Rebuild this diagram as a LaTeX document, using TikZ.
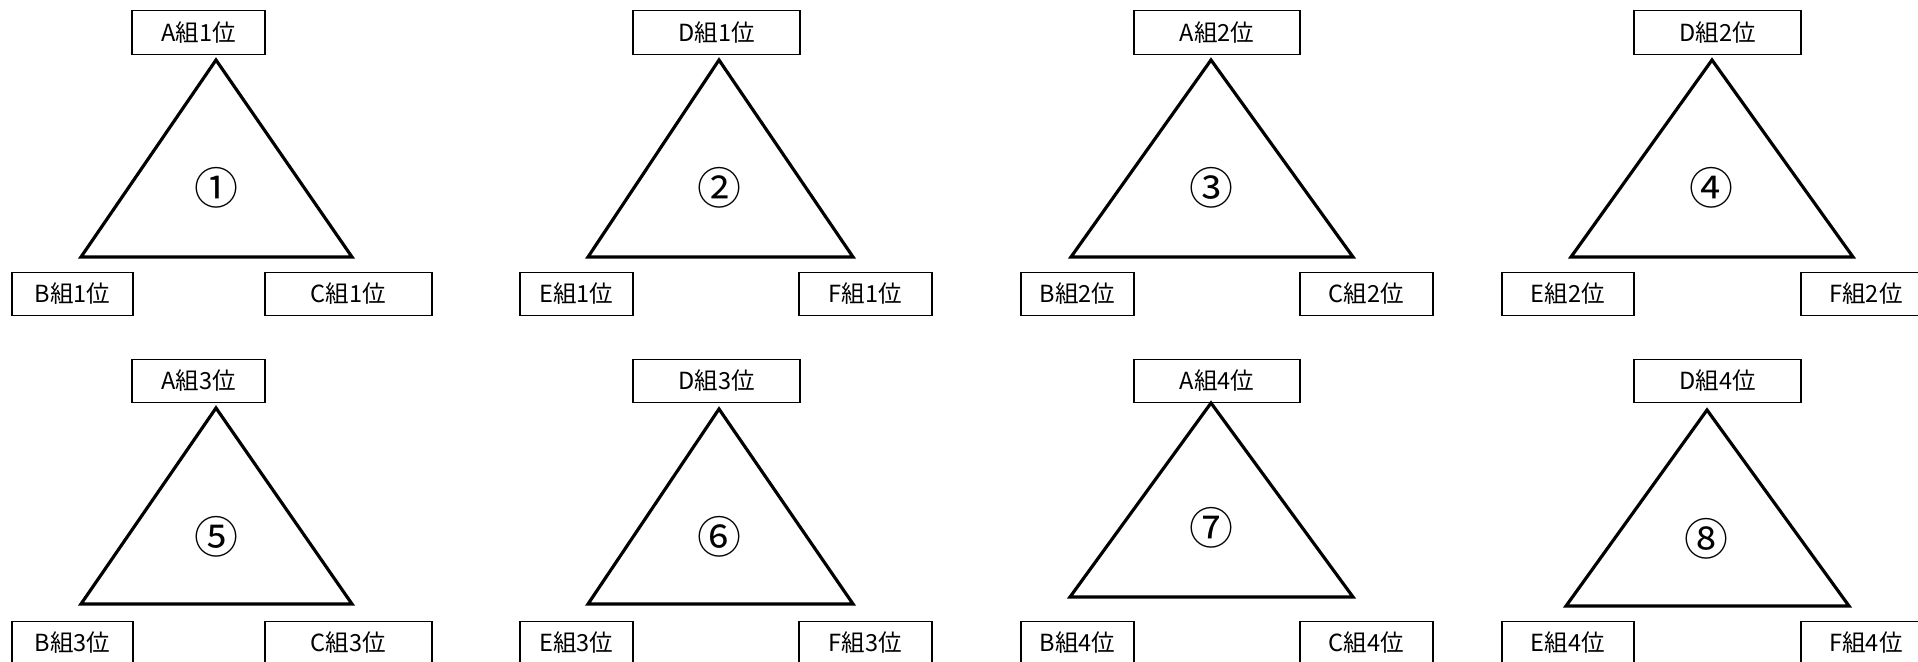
\documentclass[tikz,border=0pt]{standalone}
\usepackage{fontspec}
\usepackage{tikz}
\newfontfamily\jpfont{Noto Sans CJK JP}
\tikzset{
  team/.style={draw, line width=0.4pt, inner sep=0pt, minimum height=0.435cm,
    font=\jpfont\fontsize{6.7}{8}\selectfont},
  tri/.style={draw, line width=0.9pt, line join=miter},
  rank/.style={inner sep=0pt, font=\jpfont\fontsize{12.5}{14}\selectfont}
}

\begin{document}
\begin{tikzpicture}[x=0.01cm, y=-0.01cm]
    \useasboundingbox (0,0) rectangle (1918,662);
    \clip (0,0) rectangle (1918,662);

    % upper row
    \node[team, minimum width=1.33cm] (top1) at (198.5,32.5) {A組1位};
    \node[team, minimum width=1.21cm] (bl1) at (72.5,294) {B組1位};
    \node[team, minimum width=1.67cm] (br1) at (348.5,294) {C組1位};
    \draw[tri] (216,60) -- (81,257) -- (352,257) -- cycle;
    \node[rank] (no1) at (216,188) {①};

    \node[team, minimum width=1.67cm] (top2) at (716.5,32.5) {D組1位};
    \node[team, minimum width=1.13cm] (bl2) at (576.5,294) {E組1位};
    \node[team, minimum width=1.33cm] (br2) at (865.5,294) {F組1位};
    \draw[tri] (719,60) -- (588,257) -- (853,257) -- cycle;
    \node[rank] (no2) at (719,188) {②};

    \node[team, minimum width=1.66cm] (top3) at (1217,32.5) {A組2位};
    \node[team, minimum width=1.13cm] (bl3) at (1077.5,294) {B組2位};
    \node[team, minimum width=1.33cm] (br3) at (1366.5,294) {C組2位};
    \draw[tri] (1211,60) -- (1071,257) -- (1353,257) -- cycle;
    \node[rank] (no3) at (1211,188) {③};

    \node[team, minimum width=1.67cm] (top4) at (1717.5,32.5) {D組2位};
    \node[team, minimum width=1.32cm] (bl4) at (1568,294) {E組2位};
    \node[team, minimum width=1.30cm] (br4) at (1866,294) {F組2位};
    \draw[tri] (1712,60) -- (1571,257) -- (1853,257) -- cycle;
    \node[rank] (no4) at (1711,188) {④};

    % lower row
    \node[team, minimum width=1.33cm] (top5) at (198.5,381) {A組3位};
    \node[team, minimum width=1.21cm] (bl5) at (72.5,643) {B組3位};
    \node[team, minimum width=1.67cm] (br5) at (348.5,643) {C組3位};
    \draw[tri] (216,408) -- (81,604) -- (352,604) -- cycle;
    \node[rank] (no5) at (216,537) {⑤};

    \node[team, minimum width=1.67cm] (top6) at (716.5,381) {D組3位};
    \node[team, minimum width=1.13cm] (bl6) at (576.5,643) {E組3位};
    \node[team, minimum width=1.33cm] (br6) at (865.5,643) {F組3位};
    \draw[tri] (719,409) -- (588,604) -- (853,604) -- cycle;
    \node[rank] (no6) at (719,537) {⑥};

    \node[team, minimum width=1.66cm] (top7) at (1217,381) {A組4位};
    \node[team, minimum width=1.13cm] (bl7) at (1077.5,643) {B組4位};
    \node[team, minimum width=1.33cm] (br7) at (1366.5,643) {C組4位};
    \draw[tri] (1211,403) -- (1070,597) -- (1353,597) -- cycle;
    \node[rank] (no7) at (1211,528) {⑦};

    \node[team, minimum width=1.67cm] (top8) at (1717.5,381) {D組4位};
    \node[team, minimum width=1.32cm] (bl8) at (1568,643) {E組4位};
    \node[team, minimum width=1.30cm] (br8) at (1866,643) {F組4位};
    \draw[tri] (1707,410) -- (1566,606) -- (1849,606) -- cycle;
    \node[rank] (no8) at (1706,539) {⑧};
\end{tikzpicture}
\end{document}
